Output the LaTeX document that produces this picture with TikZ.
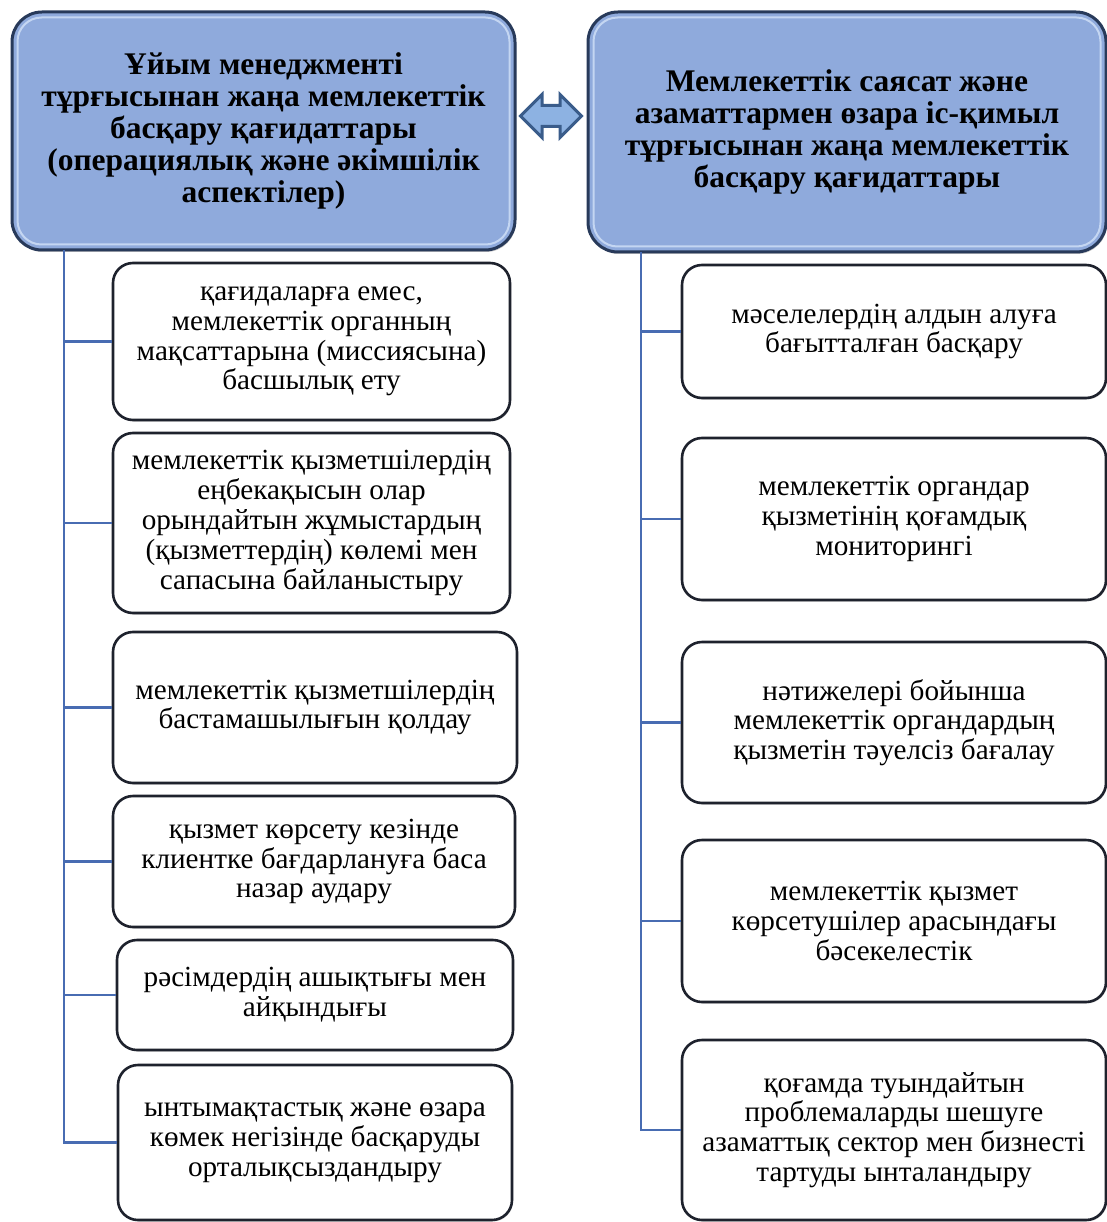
\documentclass[tikz,border=0pt]{standalone}
\usepackage{fontspec}
\setmainfont{Liberation Serif}
\usetikzlibrary{shapes.arrows,shadows}
\definecolor{hdrfill}{RGB}{143,170,220}
\definecolor{hdrlight}{RGB}{196,214,242}
\definecolor{hdrline}{RGB}{40,58,90}
\definecolor{itemline}{RGB}{30,34,45}
\definecolor{linkblue}{RGB}{72,108,178}
\definecolor{arrfill}{RGB}{141,178,226}
\definecolor{arrline}{RGB}{58,92,138}
\tikzset{
  hdr/.style={rectangle, rounded corners=30, draw=hdrline, fill=hdrfill,
    line width=3, align=center, inner sep=0,
    font=\fontsize{31.5}{32}\selectfont\bfseries,
    drop shadow={shadow xshift=1pt, shadow yshift=-2pt, opacity=.45}},
  glow/.style={draw=hdrlight, line width=2, rounded corners=24},
  item/.style={rectangle, rounded corners=20, draw=itemline, fill=white,
    line width=2.6, align=center, inner sep=0,
    font=\fontsize{29.2}{29.8}\selectfont,
    drop shadow={shadow xshift=1pt, shadow yshift=-1.5pt, opacity=.35}},
  link/.style={draw=linkblue, line width=2.4}
}
\begin{document}
\begin{tikzpicture}[x=1pt,y=-1pt]
  \useasboundingbox (0,0) rectangle (1107,1222);
  \node[hdr, minimum width=503, minimum height=238] (L) at (263.5,131)
    {Ұйым менеджменті\\тұрғысынан жаңа мемлекеттік\\басқару қағидаттары\\(операциялық және әкімшілік\\аспектілер)};
  \node[hdr, minimum width=518, minimum height=240] (R) at (847,132)
    {Мемлекеттік саясат және\\азаматтармен өзара іс-қимыл\\тұрғысынан жаңа мемлекеттік\\басқару қағидаттары};
  \draw[glow] ([shift={(7,7)}]L.north west) rectangle ([shift={(-7,-7)}]L.south east);
  \draw[glow] ([shift={(7,7)}]R.north west) rectangle ([shift={(-7,-7)}]R.south east);
  \node[double arrow, draw=arrline, fill=arrfill, line width=3, inner xsep=0,
    inner ysep=9, minimum height=61, double arrow head extend=11,
    double arrow head indent=0] (swap) at (551,116) {};

  \node[item, minimum width=397, minimum height=157] (l1) at (311.5,341.5)
    {қағидаларға емес,\\мемлекеттік органның\\мақсаттарына (миссиясына)\\басшылық ету};
  \node[item, minimum width=397, minimum height=180] (l2) at (311.5,523)
    {мемлекеттік қызметшілердің\\еңбекақысын олар\\орындайтын жұмыстардың\\(қызметтердің) көлемі мен\\сапасына байланыстыру};
  \node[item, minimum width=404, minimum height=151] (l3) at (315,707.5)
    {мемлекеттік қызметшілердің\\бастамашылығын қолдау};
  \node[item, minimum width=402, minimum height=131] (l4) at (314,861.5)
    {қызмет көрсету кезінде\\клиентке бағдарлануға баса\\назар аудару};
  \node[item, minimum width=396, minimum height=110] (l5) at (315,995)
    {рәсімдердің ашықтығы мен\\айқындығы};
  \node[item, minimum width=394, minimum height=155] (l6) at (315,1142.5)
    {ынтымақтастық және өзара\\көмек негізінде басқаруды\\орталықсыздандыру};

  \node[item, minimum width=424, minimum height=133] (r1) at (894,331.5)
    {мәселелердің алдын алуға\\бағытталған басқару};
  \node[item, minimum width=424, minimum height=162] (r2) at (894,519)
    {мемлекеттік органдар\\қызметінің қоғамдық\\мониторингі};
  \node[item, minimum width=424, minimum height=161] (r3) at (894,722.5)
    {нәтижелері бойынша\\мемлекеттік органдардың\\қызметін тәуелсіз бағалау};
  \node[item, minimum width=424, minimum height=162] (r4) at (894,921)
    {мемлекеттік қызмет\\көрсетушілер арасындағы\\бәсекелестік};
  \node[item, minimum width=424, minimum height=180] (r5) at (894,1130)
    {қоғамда туындайтын\\проблемаларды шешуге\\азаматтық сектор мен бизнесті\\тартуды ынталандыру};

  \coordinate (ltop) at (64,250);
  \coordinate (rtop) at (641,252);
  \begin{scope}[link]
    \draw (ltop) |- (l1.west);
    \draw (ltop) |- (l2.west);
    \draw (ltop) |- (l3.west);
    \draw (ltop) |- (l4.west);
    \draw (ltop) |- (l5.west);
    \draw (ltop) |- (l6.west);
    \draw (rtop) |- (r1.west);
    \draw (rtop) |- (r2.west);
    \draw (rtop) |- (r3.west);
    \draw (rtop) |- (r4.west);
    \draw (rtop) |- (r5.west);
  \end{scope}
\end{tikzpicture}
\end{document}
